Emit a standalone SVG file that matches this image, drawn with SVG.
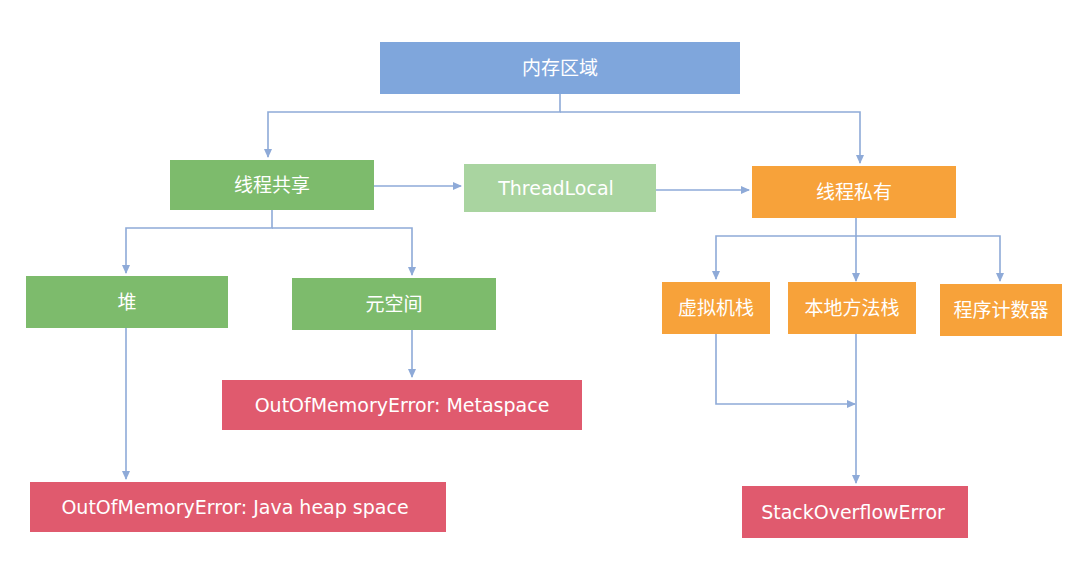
<svg xmlns="http://www.w3.org/2000/svg" width="1080" height="570" viewBox="0 0 1080 570">
<style>
.t{font-family:"DejaVu Sans","Noto Sans CJK SC",sans-serif;font-size:19px;fill:#fff;text-anchor:middle;dominant-baseline:central}
.c{fill:none;stroke:#8eaad8;stroke-width:1.6}
.b{fill:#7fa6dc}.g{fill:#7dbb6c}.lg{fill:#a9d4a0}.o{fill:#f7a23a}.r{fill:#e05a6e}
</style>
<defs><marker id="a" markerWidth="10" markerHeight="10" refX="8" refY="5" orient="auto" markerUnits="userSpaceOnUse"><path d="M0,1 L9,5 L0,9 Z" fill="#8eaad8"/></marker></defs>
<rect width="1080" height="570" fill="#fff"/>
<g id="connectors">
<path class="c" d="M560,94 V112 H268 V157" marker-end="url(#a)"/>
<path class="c" d="M560,112 H860 V163" marker-end="url(#a)"/>
<path class="c" d="M374,186 H461" marker-end="url(#a)"/>
<path class="c" d="M656,190 H749" marker-end="url(#a)"/>
<path class="c" d="M272,210 V228 H126 V273" marker-end="url(#a)"/>
<path class="c" d="M272,228 H412 V275" marker-end="url(#a)"/>
<path class="c" d="M856,218 V236 H716 V279" marker-end="url(#a)"/>
<path class="c" d="M856,236 H1000 V281" marker-end="url(#a)"/>
<path class="c" d="M856,236 V281" marker-end="url(#a)"/>
<path class="c" d="M856,334 V483" marker-end="url(#a)"/>
<path class="c" d="M716,334 V404 H855" marker-end="url(#a)"/>
<path class="c" d="M412,330 V377" marker-end="url(#a)"/>
<path class="c" d="M126,328 V479" marker-end="url(#a)"/>
</g>
<g id="n1"><rect class="b" x="380" y="42" width="360" height="52"/><text class="t" x="560" y="68">内存区域</text></g>
<g id="n2"><rect class="g" x="170" y="160" width="204" height="50"/><text class="t" x="272" y="185">线程共享</text></g>
<g id="n3"><rect class="lg" x="464" y="164" width="192" height="48"/><text class="t" x="556" y="188">ThreadLocal</text></g>
<g id="n4"><rect class="o" x="752" y="166" width="204" height="52"/><text class="t" x="854" y="192">线程私有</text></g>
<g id="n5"><rect class="g" x="26" y="276" width="202" height="52"/><text class="t" x="127" y="302">堆</text></g>
<g id="n6"><rect class="g" x="292" y="278" width="204" height="52"/><text class="t" x="394" y="304">元空间</text></g>
<g id="n7"><rect class="o" x="662" y="282" width="108" height="52"/><text class="t" x="716" y="308">虚拟机栈</text></g>
<g id="n8"><rect class="o" x="788" y="282" width="128" height="52"/><text class="t" x="852" y="308">本地方法栈</text></g>
<g id="n9"><rect class="o" x="940" y="284" width="122" height="52"/><text class="t" x="1001" y="310">程序计数器</text></g>
<g id="n10"><rect class="r" x="222" y="380" width="360" height="50"/><text class="t" x="402" y="405">OutOfMemoryError: Metaspace</text></g>
<g id="n11"><rect class="r" x="30" y="482" width="416" height="50"/><text class="t" x="235" y="507">OutOfMemoryError: Java heap space</text></g>
<g id="n12"><rect class="r" x="742" y="486" width="226" height="52"/><text class="t" x="853" y="512">StackOverflowError</text></g>
</svg>
